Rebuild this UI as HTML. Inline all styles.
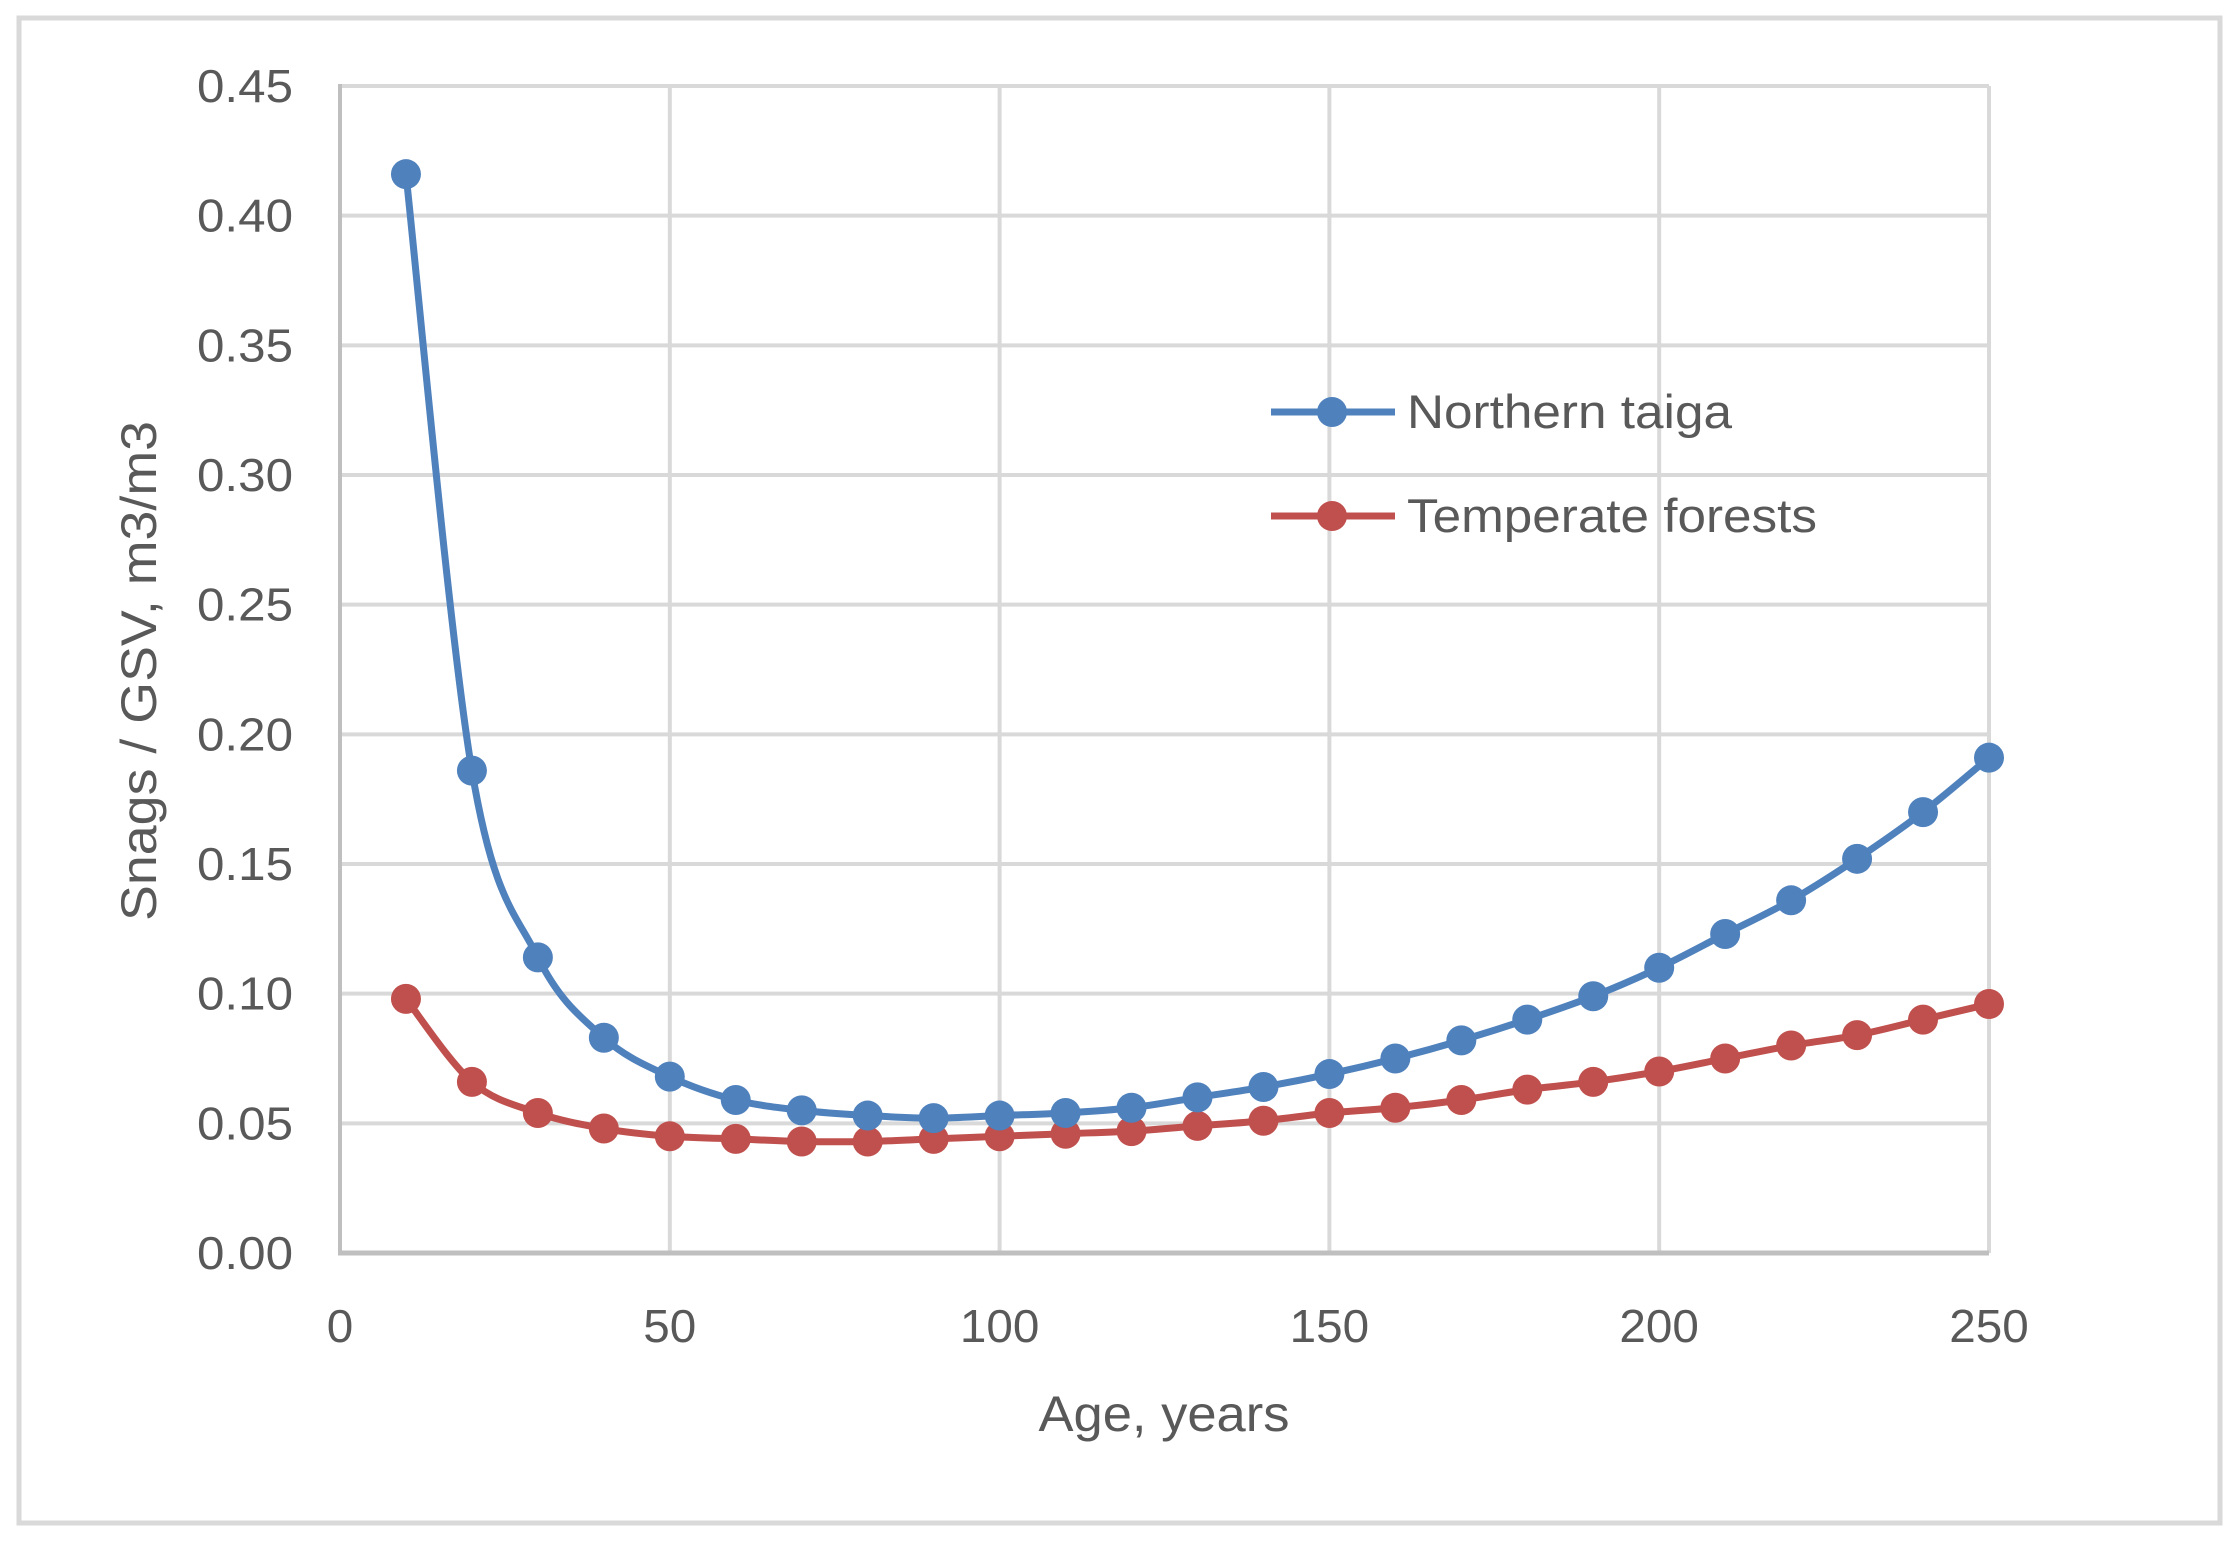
<!DOCTYPE html>
<html><head><meta charset="utf-8"><style>
html,body{margin:0;padding:0;background:#fff;}
svg text{font-family:"Liberation Sans",sans-serif;fill:#595959;}
</style></head><body>
<svg id="s" width="2240" height="1545" viewBox="0 0 2240 1545" xmlns="http://www.w3.org/2000/svg">
<rect x="0" y="0" width="2240" height="1545" fill="#fff"/>
<rect x="19" y="18" width="2201" height="1505" fill="none" stroke="#D9D9D9" stroke-width="5"/>
<g id="grid" stroke="#D9D9D9" stroke-width="4"></g>
<line x1="340" y1="84" x2="340" y2="1255" stroke="#BFBFBF" stroke-width="4"/>
<line x1="338" y1="1253" x2="1989" y2="1253" stroke="#BFBFBF" stroke-width="5"/>
<g id="yl" font-size="46" text-anchor="end"></g>
<g id="xl" font-size="46" text-anchor="middle"></g>
<text x="1164" y="1431" font-size="50" text-anchor="middle" textLength="251" lengthAdjust="spacingAndGlyphs">Age, years</text>
<text transform="translate(156,671) rotate(-90)" font-size="50" text-anchor="middle" textLength="500" lengthAdjust="spacingAndGlyphs">Snags / GSV, m3/m3</text>
<g id="series"></g>
<line x1="1271" y1="412" x2="1395" y2="412" stroke="#4F81BD" stroke-width="7"/>
<circle cx="1332" cy="412" r="15" fill="#4F81BD"/>
<text x="1407" y="428" font-size="47" textLength="325" lengthAdjust="spacingAndGlyphs">Northern taiga</text>
<line x1="1271" y1="516" x2="1395" y2="516" stroke="#C0504D" stroke-width="7"/>
<circle cx="1332" cy="516" r="15" fill="#C0504D"/>
<text x="1407" y="532" font-size="47" textLength="410" lengthAdjust="spacingAndGlyphs">Temperate forests</text>
</svg>
<script>
var NS="http://www.w3.org/2000/svg";
function X(v){return 340+v*(1989-340)/250;}
function Y(v){return 1253-v*(1253-86)/0.45;}
function el(t,a,p){var e=document.createElementNS(NS,t);for(var k in a)e.setAttribute(k,a[k]);if(p)p.appendChild(e);return e;}
var g=document.getElementById('grid'),yl=document.getElementById('yl'),xl=document.getElementById('xl');
for(var i=1;i<=9;i++){var y=Y(i*0.05);el('line',{x1:340,y1:y,x2:1989,y2:y},g);}
for(var i=1;i<=5;i++){var x=X(i*50);el('line',{x1:x,y1:86,x2:x,y2:1253},g);}
for(var i=0;i<=9;i++){var t=el('text',{x:293,y:Y(i*0.05)+16,textLength:96,lengthAdjust:'spacingAndGlyphs'},yl);t.textContent=(i*0.05).toFixed(2);}
for(var i=0;i<=5;i++){var s=String(i*50);var a={x:X(i*50),y:1342};a.textLength=s.length*26.5;a.lengthAdjust='spacingAndGlyphs';var t=el('text',a,xl);t.textContent=s;}
var blue=[0.416,0.186,0.114,0.083,0.068,0.059,0.055,0.053,0.052,0.053,0.054,0.056,0.060,0.064,0.069,0.075,0.082,0.090,0.099,0.110,0.123,0.136,0.152,0.170,0.191];
var red=[0.098,0.066,0.054,0.048,0.045,0.044,0.043,0.043,0.044,0.045,0.046,0.047,0.049,0.051,0.054,0.056,0.059,0.063,0.066,0.070,0.075,0.080,0.084,0.090,0.096];
var sg=document.getElementById('series');
function draw(d,c){
 var p=d.map(function(v,i){return [X(10+10*i),Y(v)];});
 var s="M"+p[0][0]+","+p[0][1];
 for(var i=0;i<p.length-1;i++){
  var p0=p[i-1]||p[i],p1=p[i],p2=p[i+1],p3=p[i+2]||p[i+1];
  var t=1/6;
  s+=" C"+(p1[0]+(p2[0]-p0[0])*t)+","+(p1[1]+(p2[1]-p0[1])*t)+" "+(p2[0]-(p3[0]-p1[0])*t)+","+(p2[1]-(p3[1]-p1[1])*t)+" "+p2[0]+","+p2[1];
 }
 el('path',{d:s,fill:'none',stroke:c,'stroke-width':7},sg);
 p.forEach(function(q){el('circle',{cx:q[0],cy:q[1],r:15,fill:c},sg);});
}
draw(red,'#C0504D');draw(blue,'#4F81BD');
</script>
</body></html>
